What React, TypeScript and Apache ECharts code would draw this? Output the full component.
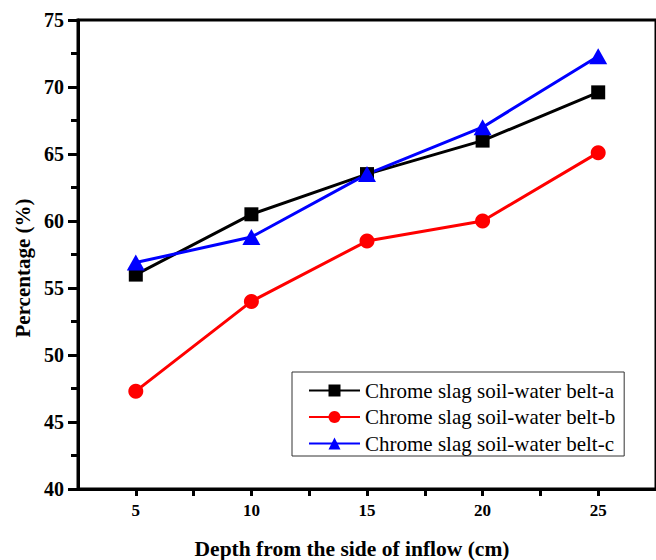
import React, { useEffect, useRef } from "react";
import * as echarts from "echarts";

const depths = [5, 10, 15, 20, 25];
const beltA = [56.0, 60.5, 63.5, 66.0, 69.6];
const beltB = [47.3, 54.0, 58.5, 60.0, 65.1];
const beltC = [56.9, 58.8, 63.5, 67.0, 72.3];
const seriesNames = [
  "Chrome slag soil-water belt-a",
  "Chrome slag soil-water belt-b",
  "Chrome slag soil-water belt-c",
];
const xTitle = "Depth from the side of inflow (cm)";
const yTitle = "Percentage (%)";

const FONT = "Liberation Serif";

export default function App() {
  const ref = useRef<HTMLDivElement>(null);
  useEffect(() => {
    if (!ref.current) return;
    const chart = echarts.init(ref.current, undefined, { renderer: "svg" });
    const pair = (vals: number[]) => depths.map((d, i) => [d, vals[i]]);
    const mk = (name: string, vals: number[], color: string, symbol: string, size: any) => ({
      name,
      type: "line",
      data: pair(vals),
      symbol,
      symbolSize: size,
      lineStyle: { color, width: 3 },
      itemStyle: { color },
      z: 3,
    });
    chart.setOption({
      animation: false,
      textStyle: { fontFamily: FONT },
      grid: {
        left: 78,
        top: 20,
        right: -3,
        bottom: 71,
        containLabel: false,
        show: true,
        borderColor: "#000",
        borderWidth: 3,
        backgroundColor: "transparent",
      },
      xAxis: {
        type: "value",
        min: 2.5,
        max: 27.5,
        interval: 2.5,
        axisLine: { show: true, lineStyle: { color: "#000", width: 3 } },
        axisTick: { show: true, length: 7, lineStyle: { color: "#000", width: 3 } },
        splitLine: { show: false },
        axisLabel: {
          margin: 13,
          fontFamily: FONT,
          fontWeight: "bold",
          fontSize: 17,
          color: "#000",
          formatter: (v: number) => (v % 5 === 0 ? String(v) : ""),
          showMinLabel: false,
          showMaxLabel: false,
        },
      },
      yAxis: {
        type: "value",
        min: 40,
        max: 75,
        interval: 5,
        axisLine: { show: true, lineStyle: { color: "#000", width: 3 } },
        axisTick: { show: true, length: 10, lineStyle: { color: "#000", width: 3 } },
        minorTick: { show: true, splitNumber: 2, length: 7, lineStyle: { color: "#000", width: 3 } },
        splitLine: { show: false },
        axisLabel: {
          margin: 14,
          fontFamily: FONT,
          fontWeight: "bold",
          fontSize: 20,
          color: "#000",
        },
      },
      legend: {
        orient: "vertical",
        left: 292,
        top: 372,
        padding: [8, 9, 2, 16],
        itemGap: 5.5,
        itemWidth: 51,
        itemHeight: 15,
        borderColor: "#333",
        borderWidth: 1,
        backgroundColor: "#fff",
        textStyle: { fontFamily: FONT, fontSize: 21, color: "#000", lineHeight: 20 },
        data: seriesNames,
      },
      graphic: [
        {
          type: "text",
          x: 352,
          y: 549,
          style: {
            text: xTitle,
            fontFamily: FONT,
            fontWeight: "bold",
            fontSize: 21.5,
            fill: "#000",
            textAlign: "center",
            textVerticalAlign: "middle",
          },
        },
        {
          type: "text",
          x: 23,
          y: 268,
          rotation: Math.PI / 2,
          style: {
            text: yTitle,
            fontFamily: FONT,
            fontWeight: "bold",
            fontSize: 21,
            fill: "#000",
            textAlign: "center",
            textVerticalAlign: "middle",
          },
        },
      ],
      series: [
        mk(seriesNames[0], beltA, "#000000", "rect", 14),
        mk(seriesNames[1], beltB, "#ff0000", "circle", 15),
        mk(seriesNames[2], beltC, "#0000ff", "triangle", [18, 16]),
      ],
    });
    return () => chart.dispose();
  }, []);
  return (
    <div
      ref={ref}
      style={{ position: "absolute", left: 0, top: 0, width: 656, height: 560, background: "#fff" }}
    />
  );
}
